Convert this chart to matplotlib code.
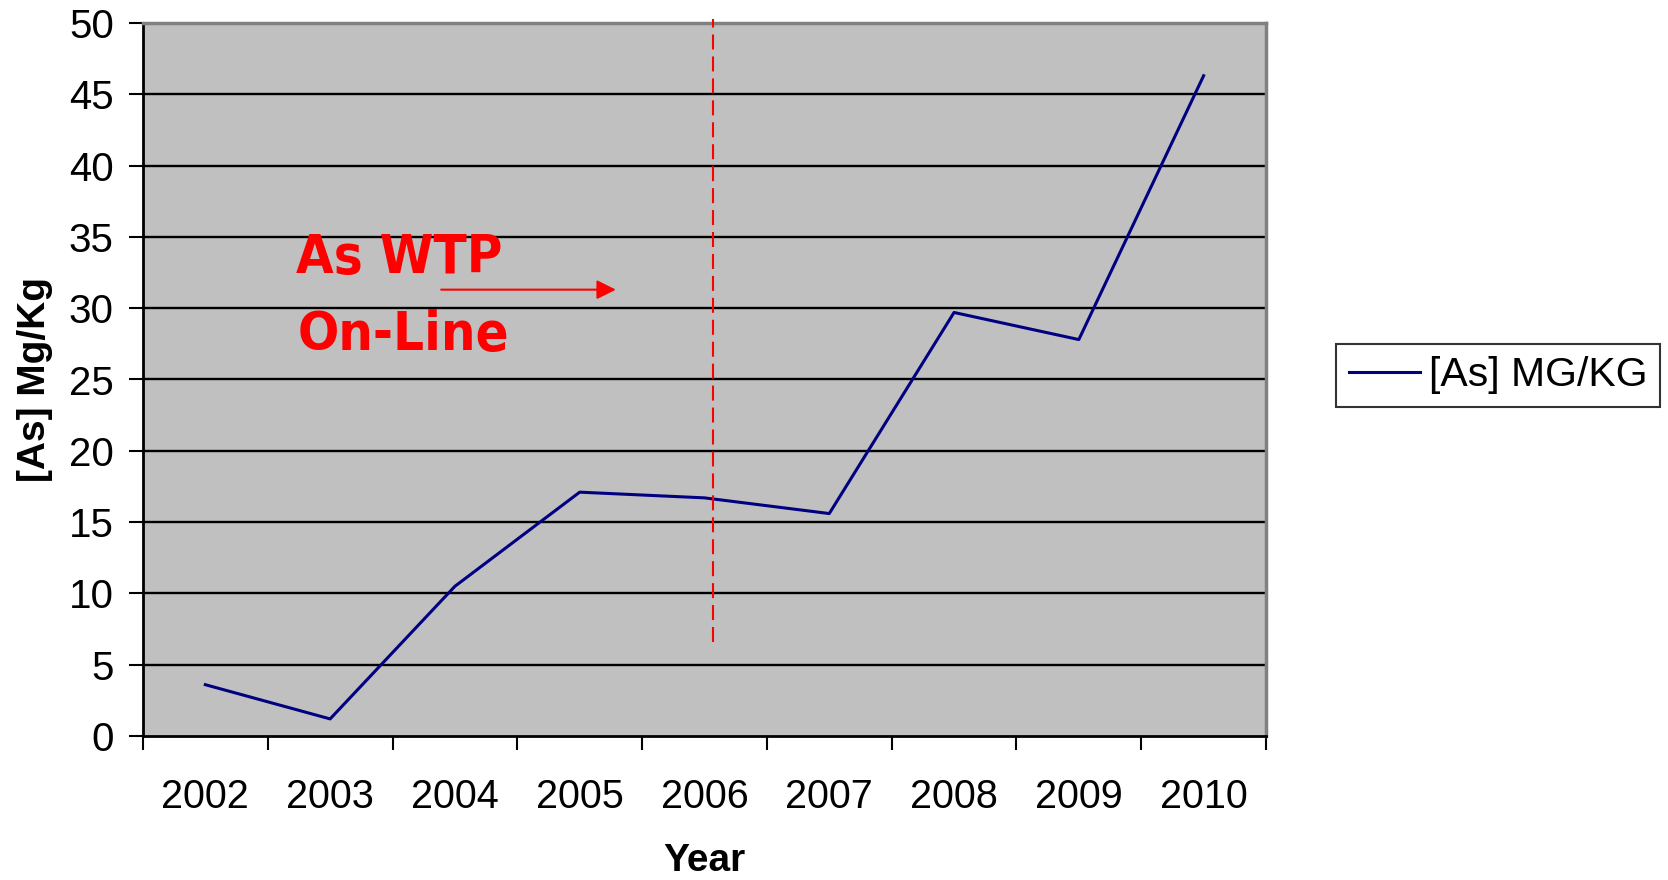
import matplotlib.pyplot as plt
import numpy as np

plt.rcParams['font.family'] = ['Liberation Sans', 'DejaVu Sans']
plt.rcParams['lines.scale_dashes'] = False

# data
years = ['2002', '2003', '2004', '2005', '2006', '2007', '2008', '2009', '2010']
arsenic = [3.6, 1.2, 10.5, 17.1, 16.7, 15.6, 29.7, 27.8, 46.3]
y_ticks = [0, 5, 10, 15, 20, 25, 30, 35, 40, 45, 50]

# marker for when the treatment plant came on line
online_x = 4.07
online_span = (6.6, 50.3)
arrow_from = (1.89, 31.3)
arrow_to = (3.29, 31.3)

fig = plt.figure(figsize=(16.68, 8.8), dpi=100)
ax = fig.add_axes([0.0857, 0.1636, 0.759 - 0.0857, 0.9739 - 0.1636])
ax.set_facecolor('#C0C0C0')

x = np.arange(len(years))
ax.plot(x, arsenic, color='#000080', lw=2.2, label='[As] MG/KG', zorder=3)

ax.set_xlim(-0.5, len(years) - 0.5)
ax.set_ylim(0, 50)

# horizontal grid lines
for v in y_ticks[1:-1]:
    ax.axhline(v, color='black', lw=1.7, zorder=1)

ax.plot([online_x, online_x], list(online_span), color='red', lw=1.5,
        dashes=(10.8, 5), clip_on=False, zorder=4)
ax.annotate('', xy=arrow_to, xytext=arrow_from,
            arrowprops=dict(arrowstyle='-|>', color='red', lw=1.5,
                            mutation_scale=29, shrinkA=0, shrinkB=0))
note_font = dict(color='red', fontsize=39, family=['DejaVu Sans'],
                 fontstretch='condensed', fontweight='bold',
                 va='baseline', ha='left')
ax.text(0.73, 32.47, 'As WTP', **note_font)
ax.text(0.74, 27.07, 'On-Line', **note_font)

# axes frame
for side in ['top', 'right']:
    ax.spines[side].set_color('#808080')
    ax.spines[side].set_linewidth(2.5)
for side in ['left', 'bottom']:
    ax.spines[side].set_color('black')
    ax.spines[side].set_linewidth(2)

ax.set_yticks(y_ticks)
ax.tick_params(axis='y', length=10, width=1.5, pad=11, labelsize=29)
ax.set_xticks(x)
ax.set_xticklabels(years)
ax.set_xticks(np.arange(-0.5, len(years)), minor=True)
ax.tick_params(axis='x', which='major', length=0, pad=30, labelsize=28.5)
ax.tick_params(axis='x', which='minor', length=10, width=1.5)

ax.set_xlabel('Year', fontsize=28, fontweight='bold')
ax.xaxis.set_label_coords(0.5, -0.150)
ax.set_ylabel('[As] Mg/Kg', fontsize=28, fontweight='bold')
ax.yaxis.set_label_coords(-0.080, 0.5)

leg = ax.legend(loc='center', bbox_to_anchor=(0.8981, 0.5733),
                bbox_transform=fig.transFigure, fontsize=29.5, frameon=True,
                fancybox=False, edgecolor='black', borderpad=0.3,
                handlelength=1.75, handletextpad=0.2, borderaxespad=0)
leg.get_frame().set_linewidth(1.5)

fig.savefig('out.png', dpi=100)
